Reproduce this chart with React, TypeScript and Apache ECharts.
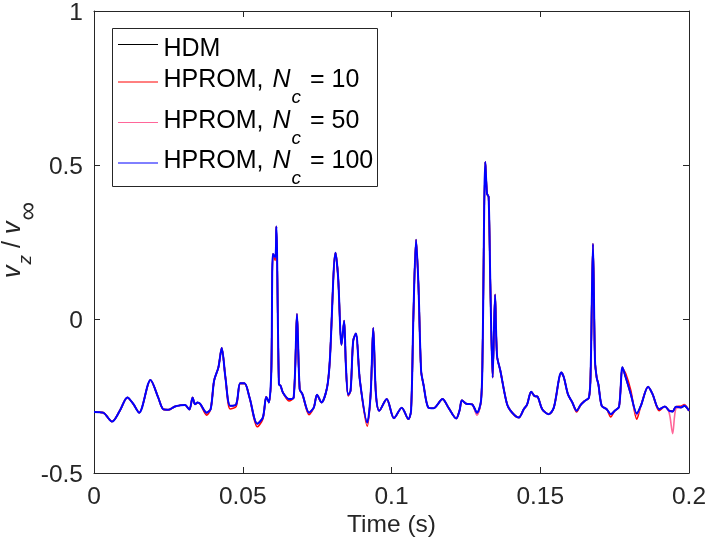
import { useEffect, useRef } from 'react';
import * as echarts from 'echarts';

const time = [
  0, 0.00304, 0.00607, 0.00867, 0.01123, 0.01315, 0.01518, 0.01899, 0.02159, 0.02327,
  0.02496, 0.02722, 0.02911, 0.03059, 0.03204, 0.03315, 0.03396, 0.03484, 0.03565, 0.03788,
  0.03922, 0.04037, 0.04182, 0.04293, 0.04418, 0.04577, 0.04779, 0.04914, 0.05059, 0.05228,
  0.05487, 0.05676, 0.05791, 0.05879, 0.0596, 0.06013, 0.06094, 0.06128, 0.06216, 0.06273,
  0.06351, 0.06553, 0.06712, 0.06823, 0.06914, 0.07005, 0.07228, 0.07386, 0.07497, 0.07646,
  0.07835, 0.07926, 0.08118, 0.08206, 0.0832, 0.08408, 0.08465, 0.08543, 0.08624, 0.08712,
  0.08803, 0.08938, 0.09184, 0.09299, 0.09386, 0.09477, 0.09589, 0.09838, 0.10084, 0.10344,
  0.10567, 0.10658, 0.10735, 0.10826, 0.10904, 0.10995, 0.11073, 0.11241, 0.1141, 0.11714,
  0.11916, 0.12176, 0.12287, 0.12368, 0.12513, 0.12705, 0.12874, 0.13009, 0.13062, 0.13153,
  0.13211, 0.13265, 0.13322, 0.134, 0.13481, 0.13548, 0.13659, 0.13885, 0.14054, 0.14277,
  0.14445, 0.1456, 0.14695, 0.14806, 0.14917, 0.15066, 0.15289, 0.15458, 0.15707, 0.15795,
  0.1593, 0.16078, 0.16223, 0.16358, 0.16493, 0.16638, 0.16695, 0.16772, 0.1684, 0.16897,
  0.16954, 0.17066, 0.17234, 0.17369, 0.17504, 0.17649, 0.17764, 0.17875, 0.18044, 0.18246,
  0.18381, 0.18627, 0.18775, 0.18998, 0.19191, 0.19336, 0.1945, 0.19562, 0.1973, 0.19841,
  0.2,
];

const hdm = [
  -0.302, -0.304, -0.333, -0.298, -0.255, -0.275, -0.304, -0.198, -0.255, -0.293,
  -0.295, -0.284, -0.28, -0.279, -0.294, -0.255, -0.277, -0.271, -0.275, -0.304,
  -0.292, -0.2, -0.157, -0.094, -0.19, -0.282, -0.277, -0.209, -0.209, -0.255,
  -0.34, -0.32, -0.253, -0.271, -0.168, 0.211, 0.2, 0.3, -0.212, -0.217,
  -0.239, -0.26, -0.255, 0.016, -0.228, -0.244, -0.304, -0.288, -0.246, -0.271,
  -0.222, -0.136, 0.215, 0.135, -0.084, -0.006, -0.146, -0.246, -0.233, -0.071,
  -0.047, -0.2, -0.336, -0.244, -0.029, -0.244, -0.298, -0.26, -0.322, -0.288,
  -0.325, -0.297, 0.005, 0.257, 0.114, -0.168, -0.212, -0.288, -0.29, -0.26,
  -0.288, -0.323, -0.297, -0.264, -0.275, -0.277, -0.304, -0.266, -0.102, 0.51,
  0.407, 0.396, 0.114, -0.19, 0.079, -0.12, -0.168, -0.277, -0.304, -0.32,
  -0.293, -0.277, -0.236, -0.25, -0.253, -0.293, -0.309, -0.287, -0.174, -0.19,
  -0.244, -0.271, -0.298, -0.279, -0.266, -0.255, -0.168, 0.244, -0.135, -0.19,
  -0.212, -0.282, -0.293, -0.309, -0.298, -0.285, -0.157, -0.19, -0.244, -0.307,
  -0.282, -0.22, -0.244, -0.293, -0.284, -0.298, -0.3, -0.285, -0.287, -0.282,
  -0.298,
];

const hprom10 = [
  -0.302, -0.304, -0.333, -0.298, -0.255, -0.275, -0.304, -0.198, -0.255, -0.293,
  -0.295, -0.284, -0.28, -0.279, -0.294, -0.255, -0.277, -0.271, -0.275, -0.312,
  -0.292, -0.2, -0.157, -0.094, -0.19, -0.292, -0.284, -0.209, -0.209, -0.255,
  -0.35, -0.325, -0.253, -0.271, -0.168, 0.211, 0.19, 0.3, -0.212, -0.217,
  -0.239, -0.266, -0.255, 0.016, -0.228, -0.244, -0.311, -0.288, -0.246, -0.271,
  -0.222, -0.136, 0.215, 0.135, -0.084, -0.006, -0.146, -0.25, -0.233, -0.071,
  -0.047, -0.2, -0.348, -0.244, -0.029, -0.244, -0.298, -0.26, -0.322, -0.288,
  -0.325, -0.297, 0.005, 0.257, 0.114, -0.168, -0.212, -0.288, -0.29, -0.26,
  -0.288, -0.323, -0.297, -0.264, -0.275, -0.277, -0.31, -0.266, -0.102, 0.51,
  0.407, 0.396, 0.114, -0.19, 0.079, -0.12, -0.168, -0.277, -0.304, -0.32,
  -0.293, -0.277, -0.236, -0.25, -0.253, -0.293, -0.309, -0.287, -0.174, -0.19,
  -0.244, -0.271, -0.302, -0.279, -0.266, -0.255, -0.168, 0.244, -0.135, -0.19,
  -0.212, -0.282, -0.293, -0.318, -0.298, -0.285, -0.16, -0.178, -0.232, -0.325,
  -0.282, -0.22, -0.244, -0.298, -0.284, -0.298, -0.3, -0.285, -0.283, -0.278,
  -0.298,
];

const hprom50 = [
  -0.302, -0.304, -0.333, -0.298, -0.255, -0.275, -0.304, -0.198, -0.255, -0.293,
  -0.295, -0.284, -0.28, -0.279, -0.294, -0.255, -0.277, -0.271, -0.275, -0.304,
  -0.292, -0.2, -0.157, -0.094, -0.19, -0.282, -0.277, -0.209, -0.209, -0.255,
  -0.34, -0.32, -0.253, -0.271, -0.168, 0.211, 0.2, 0.3, -0.212, -0.217,
  -0.239, -0.26, -0.255, 0.016, -0.228, -0.244, -0.304, -0.288, -0.246, -0.271,
  -0.222, -0.136, 0.215, 0.135, -0.084, -0.006, -0.146, -0.246, -0.233, -0.071,
  -0.047, -0.2, -0.336, -0.244, -0.029, -0.244, -0.298, -0.26, -0.322, -0.288,
  -0.325, -0.297, 0.005, 0.257, 0.114, -0.168, -0.212, -0.288, -0.29, -0.26,
  -0.288, -0.323, -0.297, -0.264, -0.275, -0.277, -0.312, -0.266, -0.102, 0.51,
  0.407, 0.396, 0.114, -0.19, 0.079, -0.12, -0.168, -0.277, -0.304, -0.32,
  -0.293, -0.277, -0.236, -0.25, -0.253, -0.293, -0.309, -0.287, -0.174, -0.19,
  -0.244, -0.271, -0.298, -0.279, -0.266, -0.255, -0.168, 0.244, -0.135, -0.19,
  -0.212, -0.282, -0.293, -0.309, -0.298, -0.285, -0.157, -0.19, -0.244, -0.312,
  -0.282, -0.22, -0.244, -0.293, -0.284, -0.305, -0.372, -0.29, -0.287, -0.28,
  -0.298,
];

const hprom100 = [
  -0.302, -0.304, -0.333, -0.298, -0.255, -0.275, -0.304, -0.198, -0.255, -0.293,
  -0.295, -0.284, -0.28, -0.279, -0.294, -0.255, -0.277, -0.271, -0.275, -0.304,
  -0.292, -0.2, -0.157, -0.094, -0.19, -0.282, -0.277, -0.209, -0.209, -0.255,
  -0.34, -0.32, -0.253, -0.271, -0.168, 0.211, 0.2, 0.3, -0.212, -0.217,
  -0.239, -0.26, -0.255, 0.016, -0.228, -0.244, -0.304, -0.288, -0.246, -0.271,
  -0.222, -0.136, 0.215, 0.135, -0.084, -0.006, -0.146, -0.246, -0.233, -0.071,
  -0.047, -0.2, -0.336, -0.244, -0.029, -0.244, -0.298, -0.26, -0.322, -0.288,
  -0.325, -0.297, 0.005, 0.257, 0.114, -0.168, -0.212, -0.288, -0.29, -0.26,
  -0.288, -0.323, -0.297, -0.264, -0.275, -0.277, -0.304, -0.266, -0.102, 0.51,
  0.407, 0.396, 0.114, -0.19, 0.079, -0.12, -0.168, -0.277, -0.304, -0.32,
  -0.293, -0.277, -0.236, -0.25, -0.253, -0.293, -0.309, -0.287, -0.174, -0.19,
  -0.244, -0.271, -0.298, -0.279, -0.266, -0.255, -0.168, 0.244, -0.135, -0.19,
  -0.212, -0.282, -0.293, -0.309, -0.298, -0.285, -0.157, -0.19, -0.244, -0.307,
  -0.282, -0.22, -0.244, -0.293, -0.284, -0.298, -0.3, -0.285, -0.287, -0.282,
  -0.298,
];

const seriesNames = ['HDM', 'HPROM, Nc = 10', 'HPROM, Nc = 50', 'HPROM, Nc = 100'];
const seriesColors = ['#000000', '#ff0000', '#ff6699', '#0000ff'];
const legendLabels = [
  '{t|HDM}',
  '{t|HPROM, }{i|N}{s|c}{e|= 10}',
  '{t|HPROM, }{i|N}{s|c}{e|= 50}',
  '{t|HPROM, }{i|N}{s|c}{e|= 100}',
];
const legendRowY = [44.5, 82, 122.5, 163];
const legendTextShift = [2.2, -4, -4, -4];
const yAxisTitle = '{v|v}{s|z}{t| / }{v|v}{u|∞}';
const xAxisTitle = 'Time (s)';

const FONT = '"Liberation Sans", Arial, Helvetica, sans-serif';
const AXIS = '#262626';

export default function App() {
  const ref = useRef<HTMLDivElement>(null);
  useEffect(() => {
    const chart = echarts.init(ref.current!, null, { renderer: 'svg' });
    const pairs = (vals: number[]) => time.map((t, i) => [t, vals[i]]);
    const allValues = [hdm, hprom10, hprom50, hprom100];
    const base = { fontFamily: FONT, lineHeight: 24, fill: '#000', color: '#000' };
    const richLegend = {
      t: { ...base, fontSize: 25 },
      i: { ...base, fontSize: 25, fontStyle: 'italic', padding: [0, 0, 0, 2] },
      s: { ...base, fontSize: 19, fontStyle: 'italic', verticalAlign: 'top', padding: [21, 0, 0, 1] },
      e: { ...base, fontSize: 25, padding: [0, 0, 0, 9] },
    };
    const yBase = { fontFamily: FONT, lineHeight: 18, fill: AXIS, color: AXIS };
    const richY = {
      v: { ...yBase, fontSize: 25, fontStyle: 'italic' },
      t: { ...yBase, fontSize: 25 },
      s: { ...yBase, fontSize: 19, fontStyle: 'italic', verticalAlign: 'top', padding: [13.5, 0, 0, 1] },
      u: { ...yBase, fontSize: 26, verticalAlign: 'top', padding: [12, 0, 0, 1] },
    };
    const axisCommon = {
      axisLine: { onZero: false, lineStyle: { color: AXIS, width: 1 } },
      axisTick: { inside: true, length: 6, lineStyle: { color: AXIS, width: 1 } },
      splitLine: { show: false },
    };
    const graphics: any[] = [
      {
        type: 'rect', z: 100,
        shape: { x: 112.5, y: 28.5, width: 265, height: 158 },
        style: { fill: '#ffffff', stroke: AXIS, lineWidth: 1 },
      },
      {
        type: 'text', z: 101, x: 10.5, y: 240, rotation: Math.PI / 2,
        style: {
          text: yAxisTitle, rich: richY, align: 'center', verticalAlign: 'middle',
          fontFamily: FONT, fontSize: 25, fill: AXIS,
        },
      },
    ];
    seriesNames.forEach((_, k) => {
      graphics.push({
        type: 'line', z: 101,
        shape: { x1: 118, y1: legendRowY[k], x2: 158, y2: legendRowY[k] },
        style: { stroke: seriesColors[k], lineWidth: 1 },
      });
      graphics.push({
        type: 'text', z: 101, x: 163.5, y: legendRowY[k] + legendTextShift[k],
        style: {
          text: legendLabels[k], rich: richLegend, align: 'left', verticalAlign: 'middle',
          fontFamily: FONT, fontSize: 25, fill: '#000',
        },
      });
    });
    chart.setOption({
      animation: false,
      grid: { left: 94, right: 17, top: 11, bottom: 69, outerBoundsMode: 'none', containLabel: false },
      graphic: graphics,
      xAxis: [
        {
          type: 'value', min: 0, max: 0.2, interval: 0.05, position: 'bottom',
          ...axisCommon,
          axisLabel: { color: AXIS, fontFamily: FONT, fontSize: 24.5, margin: 10 },
          name: xAxisTitle, nameLocation: 'middle', nameGap: 38, nameMoveOverlap: false,
          nameTextStyle: { color: AXIS, fontFamily: FONT, fontSize: 24.5 },
        },
        {
          type: 'value', min: 0, max: 0.2, interval: 0.05, position: 'top',
          ...axisCommon, axisLabel: { show: false },
        },
      ],
      yAxis: [
        {
          type: 'value', min: -0.5, max: 1, interval: 0.5, position: 'left',
          ...axisCommon,
          axisLabel: { color: AXIS, fontFamily: FONT, fontSize: 24.5, lineHeight: 18, margin: 11 },
        },
        {
          type: 'value', min: -0.5, max: 1, interval: 0.5, position: 'right',
          ...axisCommon, axisLabel: { show: false },
        },
      ],
      series: seriesNames.map((name, k) => ({
        name,
        type: 'line',
        xAxisIndex: 0,
        yAxisIndex: 0,
        data: pairs(allValues[k]),
        showSymbol: false,
        symbol: 'none',
        smooth: 0.3,
        itemStyle: { color: seriesColors[k] },
        lineStyle: { color: seriesColors[k], width: k === 3 ? 2 : 1.6 },
        z: 2 + k,
      })),
    });
    return () => chart.dispose();
  }, []);
  return <div ref={ref} style={{ position: 'fixed', left: 0, top: 0, width: 706, height: 542 }} />;
}
